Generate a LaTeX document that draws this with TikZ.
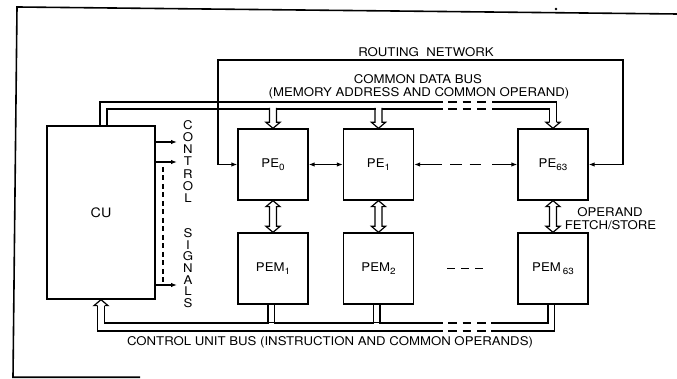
\documentclass[tikz,border=0pt]{standalone}
\usepackage{fontspec}
\setmainfont{TeX Gyre Heros}[FakeStretch=1.1]
\usetikzlibrary{arrows.meta,calc}
\newcommand\sbs[1]{\raisebox{-3.5pt}{\fontsize{9}{9}\selectfont #1}}
\newcommand\dblv[2]{\draw[wire, fill=white] (#1.south) -- ($(#1.south)+(-7,-6)$) -- ($(#1.south)+(-3.5,-6)$) -- ($(#2.north)+(-3.5,6)$) -- ($(#2.north)+(-7,6)$) -- (#2.north) -- ($(#2.north)+(7,6)$) -- ($(#2.north)+(3.5,6)$) -- ($(#1.south)+(3.5,-6)$) -- ($(#1.south)+(7,-6)$) -- cycle;}
\newcommand\busdrop[1]{\fill[white] ($(#1.north)+(-3,7)$) rectangle ($(#1.north)+(3,21)$);
  \draw[wire] ($(#1.north)+(-3.5,20.5)$) -- ($(#1.north)+(-3.5,6)$) -- ($(#1.north)+(-7,6)$) -- (#1.north) -- ($(#1.north)+(7,6)$) -- ($(#1.north)+(3.5,6)$) -- ($(#1.north)+(3.5,20.5)$);}
\newcommand\busrise[1]{\fill[white] ($(#1.south)+(-4.4,-20)$) rectangle ($(#1.south)+(0.9,-18)$);
  \draw[wire] ($(#1.south)+(-5,0)$) -- ($(#1.south)+(-5,-19.5)$);
  \draw[wire] ($(#1.south)+(1.5,0)$) -- ($(#1.south)+(1.5,-19.5)$);}
\begin{document}
\begin{tikzpicture}[x=1pt,y=1pt,
  blk/.style={draw, line width=1.3pt, inner sep=0pt, minimum width=70pt, minimum height=71pt, font=\fontsize{12}{13}\selectfont},
  wire/.style={line width=1.2pt, line join=miter},
  tip/.style={wire, -{Latex[length=6pt,width=4.5pt]}},
  tips/.style={wire, {Latex[length=6pt,width=4.5pt]}-{Latex[length=6pt,width=4.5pt]}},
  lbl/.style={font=\fontsize{12}{13}\selectfont, inner sep=0pt},
  gap/.style={wire, dash pattern=on 8.5pt off 6pt},
  frame/.style={line width=1.6pt}]
\useasboundingbox (0,0) rectangle (677,379);
% frame
\draw[frame] (140,1.7) -- (13,1.7) -- (17,372) -- (677,365);
\fill (556,370) circle (1.3);

% blocks
\node[blk, minimum width=108pt, minimum height=173pt, font=\fontsize{13}{14}\selectfont] (CU) at (101,166.5) {CU};
\node[blk] (PE0) at (273,214.5) {PE\sbs{0}};
\node[blk] (PE1) at (378.5,214.5) {PE\sbs{1}};
\node[blk] (PE63) at (553,214.5) {PE\sbs{63}};
\node[blk] (PEM1) at (273,110.5) {PEM\sbs{1}};
\node[blk] (PEM2) at (378.5,110.5) {PEM\sbs{2}};
\node[blk] (PEM63) at (553,110.5) {PEM\,\sbs{63}};

% labels
\node[lbl] (rnT) at (426,327) {ROUTING\ \ NETWORK};
\node[lbl] (cdbT) at (418,300) {COMMON\ DATA\ BUS};
\node[lbl] (cdbT2) at (419,286) {(MEMORY\ ADDRESS\ AND\ COMMON\ OPERAND)};
\node[lbl] (cubT) at (330,37) {CONTROL\ UNIT\ BUS\ (INSTRUCTION\ AND\ COMMON\ OPERANDS)};
\node[lbl] (opT) at (610,167) {OPERAND};
\node[lbl] (fsT) at (610.5,154) {FETCH/STORE};
\foreach \ch [count=\i from 0] in {C,O,N,T,R,O,L}
  \node[lbl] (c\i) at (188,{254-12.17*\i}) {\ch};
\foreach \ch [count=\i from 0] in {S,I,G,N,A,L,S}
  \node[lbl] (s\i) at (188,{146-11.67*\i}) {\ch};

% routing network
\coordinate (rnL) at (218,319);
\coordinate (rnR) at (623,319);
\draw[tips] (PE63.east) -| (rnR) -- (rnL) |- (PE0.west);

% PE links
\draw[tips] (PE0.east) -- (PE1.west);
\coordinate (d1) at (442,214.5);
\coordinate (d2) at (492,214.5);
\draw[wire, {Latex[length=6pt,width=4.5pt]}-] (PE1.east) -- (d1);
\draw[wire, dash pattern=on 11.5pt off 8pt] (450,214.5) -- (481.5,214.5);
\draw[tip] (d2) -- (PE63.west);
\draw[wire, dash pattern=on 8pt off 6pt] (447,110.5) -- (483,110.5);

% control signals
\coordinate (cs1) at (177,237);
\coordinate (cs2) at (177,217);
\coordinate (cs3) at (177,94);
\draw[tip] (CU.east |- cs1) -- (cs1);
\draw[tip] (CU.east |- cs2) -- (cs2);
\draw[tip] (CU.east |- cs3) -- (cs3);
\draw[wire, dash pattern=on 5pt off 3.5pt] (163,212) -- (163,96);

% PE <-> PEM
\dblv{PE0}{PEM1}
\dblv{PE1}{PEM2}
\dblv{PE63}{PEM63}

% common data bus
\draw[wire] ($(CU.north)+(-1,0)$) |- (443,277);
\draw[wire] (492,277) -| ($(PE63.north)+(3.5,6)$);
\draw[wire] ($(CU.north)+(6,0)$) |- (443,270);
\draw[wire] (492,270) -| ($(PE63.north)+(-3.5,6)$);
\draw[gap] (448,277) -- (486,277);
\draw[gap] (448,270) -- (486,270);
\draw[wire] ($(PE63.north)+(-3.5,6)$) -- ($(PE63.north)+(-7,6)$) -- (PE63.north) -- ($(PE63.north)+(7,6)$) -- ($(PE63.north)+(3.5,6)$);
\busdrop{PE0}
\busdrop{PE1}

% control unit bus
\draw[wire] ($(CU.south)+(-3.5,-6)$) |- (443,48);
\draw[wire] (491,48) -| ($(PEM63.south)+(1.5,0)$);
\draw[wire] ($(CU.south)+(3.5,-6)$) |- (443,56);
\draw[wire] (491,56) -| ($(PEM63.south)+(-5,0)$);
\draw[gap] (448,48) -- (486,48);
\draw[gap] (448,56) -- (486,56);
\draw[wire] ($(CU.south)+(-3.5,-6)$) -- ($(CU.south)+(-7,-6)$) -- (CU.south) -- ($(CU.south)+(7,-6)$) -- ($(CU.south)+(3.5,-6)$);
\busrise{PEM1}
\busrise{PEM2}
\end{tikzpicture}
\end{document}
